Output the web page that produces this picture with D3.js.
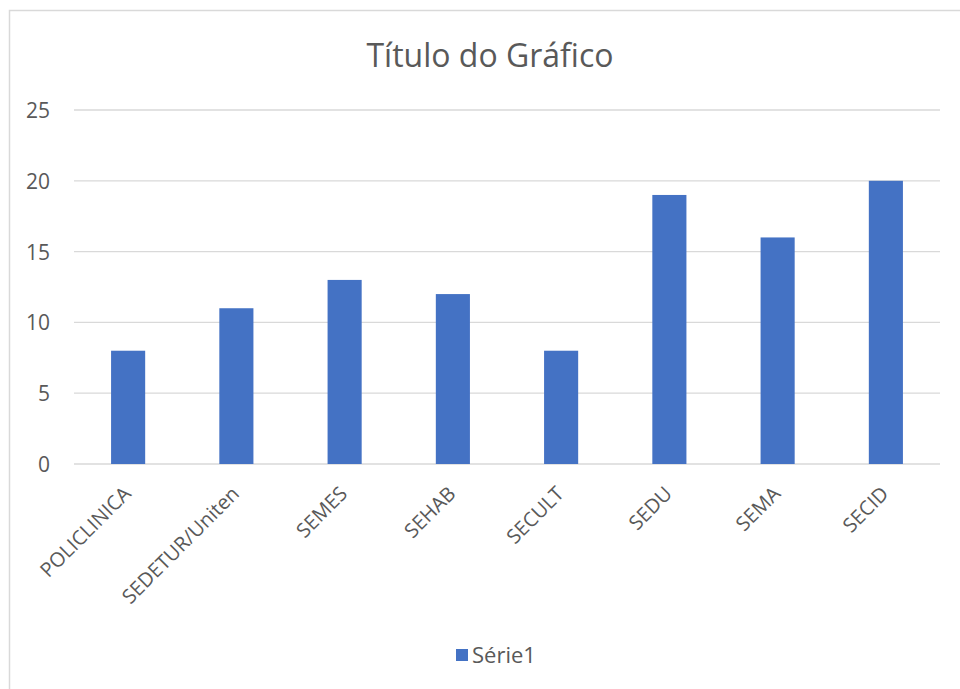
<!DOCTYPE html>
<html>
<head>
<meta charset="utf-8">
<script src="https://cdn.jsdelivr.net/npm/d3@7"></script>
<style>
  body { margin: 0; background: #fff; }
  text { font-family: "Open Sans", "Liberation Sans", sans-serif; fill: #595959; }
</style>
</head>
<body>
<div id="chart"></div>
<script>
// ----- dati
var categories = ["POLICLINICA", "SEDETUR/Uniten", "SEMES", "SEHAB", "SECULT", "SEDU", "SEMA", "SECID"];
var values = [8, 11, 13, 12, 8, 19, 16, 20];
var yTicks = [0, 5, 10, 15, 20, 25];
var seriesName = "Série1";
var title = "Título do Gráfico";

var w = 960;
var h = 689;

var plot = { left: 74, right: 940, top: 110, bottom: 464 };

var svg = d3.select('#chart').append('svg')
    .attr('width', w)
    .attr('height', h);

// bordo dell'area grafico
svg.append('rect')
    .attr('x', 9.5).attr('y', 10.5)
    .attr('width', w).attr('height', h)
    .attr('fill', '#fff')
    .attr('stroke', '#d9d9d9')
    .attr('stroke-width', 1.5);

var x = d3.scaleBand().domain(categories).range([plot.left, plot.right]).padding(0);
var y = d3.scaleLinear().domain([0, 25]).range([plot.bottom, plot.top]);

// ----- griglia
svg.append('g').selectAll('line').data(yTicks)
    .enter().append('line')
    .attr('x1', plot.left).attr('x2', plot.right)
    .attr('y1', d => y(d)).attr('y2', d => y(d))
    .attr('stroke', '#d9d9d9')
    .attr('stroke-width', 1.3);

// ----- asse y
var yAxis = svg.append('g')
    .attr('transform', 'translate(' + (plot.left - 24) + ',0)')
    .call(d3.axisLeft(y).tickValues(yTicks).tickSize(0).tickPadding(0));
yAxis.select('.domain').remove();
yAxis.attr('font-family', null).attr('font-size', null);
yAxis.selectAll('text')
    .style('font-size', '21px')
    .attr('fill', '#595959')
    .attr('dy', '0.36em');

// ----- barre
var barW = x.bandwidth() * 0.315;
svg.append('g').selectAll('rect').data(values)
    .enter().append('rect')
    .attr('x', (d, i) => x(categories[i]) + x.bandwidth() / 2 - barW / 2)
    .attr('y', d => y(d))
    .attr('width', barW)
    .attr('height', d => y(0) - y(d))
    .attr('fill', '#4472c4');

// ----- etichette categorie ruotate
svg.append('g').selectAll('text').data(categories)
    .enter().append('text')
    .attr('transform', d => 'translate(' + (x(d) + x.bandwidth() / 2 + 4) + ',' + 495 + ') rotate(-45)')
    .attr('text-anchor', 'end')
    .style('font-size', '20px')
    .text(d => d);

// ----- titolo
svg.append('text')
    .attr('x', 490).attr('y', 67)
    .attr('text-anchor', 'middle')
    .style('font-size', '32px')
    .text(title);

// ----- legenda
var legend = svg.append('g').attr('transform', 'translate(456,649)');
legend.append('rect')
    .attr('width', 12).attr('height', 12)
    .attr('fill', '#4472c4');
legend.append('text')
    .attr('x', 16).attr('y', 14)
    .style('font-size', '22px')
    .text(seriesName);
</script>
</body>
</html>
